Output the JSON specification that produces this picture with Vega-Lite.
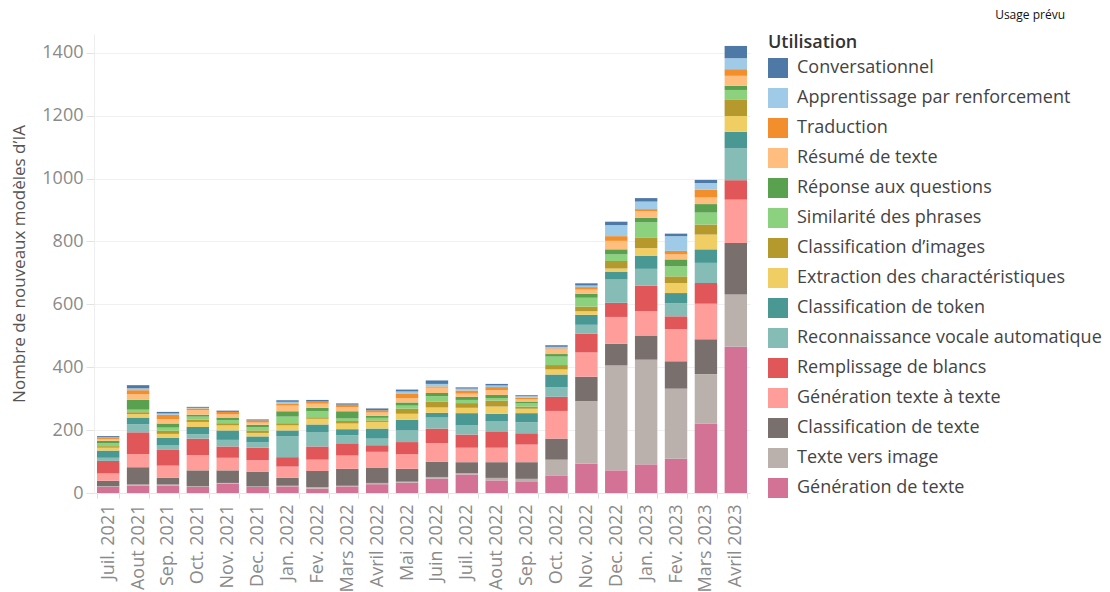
{
  "$schema": "https://vega.github.io/schema/vega-lite/v6.json",
  "width": 656,
  "height": 459,
  "autosize": {"type": "none"},
  "padding": {"left": 94, "top": 34, "right": 360, "bottom": 99},
  "background": "white",
  "title": {"text": "Usage prévu", "anchor": "end", "frame": "group", "dx": 315, "offset": 12, "fontSize": 12, "fontWeight": "normal", "font": "Open Sans", "color": "#111"},
  "config": {"view": {"stroke": null}},
  "data": {"values": [
    {"mois": "Juil. 2021", "Génération de texte": 19, "Texte vers image": 3, "Classification de texte": 17, "Génération texte à texte": 23, "Remplissage de blancs": 40, "Reconnaissance vocale automatique": 10, "Classification de token": 23, "Extraction des charactéristiques": 9, "Classification d’images": 5, "Similarité des phrases": 10, "Réponse aux questions": 7, "Résumé de texte": 6, "Traduction": 3, "Apprentissage par renforcement": 2, "Conversationnel": 4},
    {"mois": "Aout 2021", "Génération de texte": 24, "Texte vers image": 3, "Classification de texte": 55, "Génération texte à texte": 42, "Remplissage de blancs": 69, "Reconnaissance vocale automatique": 26, "Classification de token": 21, "Extraction des charactéristiques": 11, "Classification d’images": 6, "Similarité des phrases": 8, "Réponse aux questions": 31, "Résumé de texte": 18, "Traduction": 13, "Apprentissage par renforcement": 6, "Conversationnel": 10},
    {"mois": "Sep. 2021", "Génération de texte": 24, "Texte vers image": 3, "Classification de texte": 21, "Génération texte à texte": 39, "Remplissage de blancs": 50, "Reconnaissance vocale automatique": 14, "Classification de token": 24, "Extraction des charactéristiques": 13, "Classification d’images": 10, "Similarité des phrases": 10, "Réponse aux questions": 13, "Résumé de texte": 14, "Traduction": 14, "Apprentissage par renforcement": 4, "Conversationnel": 5},
    {"mois": "Oct. 2021", "Génération de texte": 19, "Texte vers image": 3, "Classification de texte": 50, "Génération texte à texte": 48, "Remplissage de blancs": 53, "Reconnaissance vocale automatique": 14, "Classification de token": 23, "Extraction des charactéristiques": 16, "Classification d’images": 7, "Similarité des phrases": 10, "Réponse aux questions": 6, "Résumé de texte": 15, "Traduction": 5, "Apprentissage par renforcement": 2, "Conversationnel": 3},
    {"mois": "Nov. 2021", "Génération de texte": 30, "Texte vers image": 2, "Classification de texte": 40, "Génération texte à texte": 40, "Remplissage de blancs": 36, "Reconnaissance vocale automatique": 21, "Classification de token": 30, "Extraction des charactéristiques": 16, "Classification d’images": 7, "Similarité des phrases": 10, "Réponse aux questions": 8, "Résumé de texte": 10, "Traduction": 8, "Apprentissage par renforcement": 0, "Conversationnel": 4},
    {"mois": "Dec. 2021", "Génération de texte": 19, "Texte vers image": 2, "Classification de texte": 46, "Génération texte à texte": 37, "Remplissage de blancs": 40, "Reconnaissance vocale automatique": 18, "Classification de token": 18, "Extraction des charactéristiques": 11, "Classification d’images": 8, "Similarité des phrases": 10, "Réponse aux questions": 8, "Résumé de texte": 7, "Traduction": 7, "Apprentissage par renforcement": 0, "Conversationnel": 3},
    {"mois": "Jan. 2022", "Génération de texte": 21, "Texte vers image": 2, "Classification de texte": 25, "Génération texte à texte": 36, "Remplissage de blancs": 30, "Reconnaissance vocale automatique": 66, "Classification de token": 19, "Extraction des charactéristiques": 16, "Classification d’images": 7, "Similarité des phrases": 21, "Réponse aux questions": 17, "Résumé de texte": 18, "Traduction": 7, "Apprentissage par renforcement": 5, "Conversationnel": 5},
    {"mois": "Fev. 2022", "Génération de texte": 14, "Texte vers image": 5, "Classification de texte": 51, "Génération texte à texte": 36, "Remplissage de blancs": 42, "Reconnaissance vocale automatique": 46, "Classification de token": 24, "Extraction des charactéristiques": 18, "Classification d’images": 5, "Similarité des phrases": 19, "Réponse aux questions": 11, "Résumé de texte": 13, "Traduction": 7, "Apprentissage par renforcement": 0, "Conversationnel": 5},
    {"mois": "Mars 2022", "Génération de texte": 21, "Texte vers image": 2, "Classification de texte": 54, "Génération texte à texte": 42, "Remplissage de blancs": 39, "Reconnaissance vocale automatique": 26, "Classification de token": 19, "Extraction des charactéristiques": 18, "Classification d’images": 8, "Similarité des phrases": 8, "Réponse aux questions": 23, "Résumé de texte": 13, "Traduction": 8, "Apprentissage par renforcement": 0, "Conversationnel": 4},
    {"mois": "Avril 2022", "Génération de texte": 28, "Texte vers image": 4, "Classification de texte": 49, "Génération texte à texte": 50, "Remplissage de blancs": 21, "Reconnaissance vocale automatique": 21, "Classification de token": 32, "Extraction des charactéristiques": 21, "Classification d’images": 5, "Similarité des phrases": 8, "Réponse aux questions": 7, "Résumé de texte": 10, "Traduction": 7, "Apprentissage par renforcement": 0, "Conversationnel": 6},
    {"mois": "Mai 2022", "Génération de texte": 33, "Texte vers image": 3, "Classification de texte": 41, "Génération texte à texte": 46, "Remplissage de blancs": 39, "Reconnaissance vocale automatique": 37, "Classification de token": 34, "Extraction des charactéristiques": 19, "Classification d’images": 16, "Similarité des phrases": 10, "Réponse aux questions": 10, "Résumé de texte": 14, "Traduction": 13, "Apprentissage par renforcement": 8, "Conversationnel": 6},
    {"mois": "Juin 2022", "Génération de texte": 46, "Texte vers image": 5, "Classification de texte": 48, "Génération texte à texte": 60, "Remplissage de blancs": 46, "Reconnaissance vocale automatique": 35, "Classification de token": 15, "Extraction des charactéristiques": 17, "Classification d’images": 18, "Similarité des phrases": 18, "Réponse aux questions": 10, "Résumé de texte": 17, "Traduction": 4, "Apprentissage par renforcement": 8, "Conversationnel": 11},
    {"mois": "Juil. 2022", "Génération de texte": 59, "Texte vers image": 4, "Classification de texte": 35, "Génération texte à texte": 46, "Remplissage de blancs": 42, "Reconnaissance vocale automatique": 29, "Classification de token": 39, "Extraction des charactéristiques": 17, "Classification d’images": 15, "Similarité des phrases": 10, "Réponse aux questions": 10, "Résumé de texte": 10, "Traduction": 10, "Apprentissage par renforcement": 6, "Conversationnel": 4},
    {"mois": "Aout 2022", "Génération de texte": 40, "Texte vers image": 8, "Classification de texte": 50, "Génération texte à texte": 46, "Remplissage de blancs": 50, "Reconnaissance vocale automatique": 35, "Classification de token": 23, "Extraction des charactéristiques": 23, "Classification d’images": 19, "Similarité des phrases": 8, "Réponse aux questions": 10, "Résumé de texte": 15, "Traduction": 10, "Apprentissage par renforcement": 5, "Conversationnel": 5},
    {"mois": "Sep. 2022", "Génération de texte": 35, "Texte vers image": 10, "Classification de texte": 53, "Génération texte à texte": 56, "Remplissage de blancs": 36, "Reconnaissance vocale automatique": 35, "Classification de token": 29, "Extraction des charactéristiques": 14, "Classification d’images": 7, "Similarité des phrases": 10, "Réponse aux questions": 6, "Résumé de texte": 7, "Traduction": 5, "Apprentissage par renforcement": 5, "Conversationnel": 3},
    {"mois": "Oct. 2022", "Génération de texte": 56, "Texte vers image": 50, "Classification de texte": 67, "Génération texte à texte": 88, "Remplissage de blancs": 45, "Reconnaissance vocale automatique": 30, "Classification de token": 41, "Extraction des charactéristiques": 16, "Classification d’images": 14, "Similarité des phrases": 27, "Réponse aux questions": 8, "Résumé de texte": 15, "Traduction": 3, "Apprentissage par renforcement": 5, "Conversationnel": 5},
    {"mois": "Nov. 2022", "Génération de texte": 93, "Texte vers image": 199, "Classification de texte": 78, "Génération texte à texte": 77, "Remplissage de blancs": 60, "Reconnaissance vocale automatique": 28, "Classification de token": 32, "Extraction des charactéristiques": 11, "Classification d’images": 15, "Similarité des phrases": 28, "Réponse aux questions": 13, "Résumé de texte": 13, "Traduction": 8, "Apprentissage par renforcement": 5, "Conversationnel": 7},
    {"mois": "Dec. 2022", "Génération de texte": 72, "Texte vers image": 334, "Classification de texte": 69, "Génération texte à texte": 85, "Remplissage de blancs": 45, "Reconnaissance vocale automatique": 74, "Classification de token": 24, "Extraction des charactéristiques": 11, "Classification d’images": 24, "Similarité des phrases": 21, "Réponse aux questions": 16, "Résumé de texte": 27, "Traduction": 15, "Apprentissage par renforcement": 35, "Conversationnel": 11},
    {"mois": "Jan. 2023", "Génération de texte": 91, "Texte vers image": 333, "Classification de texte": 77, "Génération texte à texte": 77, "Remplissage de blancs": 82, "Reconnaissance vocale automatique": 53, "Classification de token": 42, "Extraction des charactéristiques": 24, "Classification d’images": 34, "Similarité des phrases": 48, "Réponse aux questions": 14, "Résumé de texte": 21, "Traduction": 7, "Apprentissage par renforcement": 24, "Conversationnel": 11},
    {"mois": "Fev. 2023", "Génération de texte": 109, "Texte vers image": 223, "Classification de texte": 87, "Génération texte à texte": 102, "Remplissage de blancs": 41, "Reconnaissance vocale automatique": 42, "Classification de token": 32, "Extraction des charactéristiques": 32, "Classification d’images": 21, "Similarité des phrases": 32, "Réponse aux questions": 22, "Résumé de texte": 16, "Traduction": 11, "Apprentissage par renforcement": 47, "Conversationnel": 8},
    {"mois": "Mars 2023", "Génération de texte": 221, "Texte vers image": 157, "Classification de texte": 111, "Génération texte à texte": 113, "Remplissage de blancs": 66, "Reconnaissance vocale automatique": 64, "Classification de token": 43, "Extraction des charactéristiques": 47, "Classification d’images": 32, "Similarité des phrases": 38, "Réponse aux questions": 27, "Résumé de texte": 21, "Traduction": 25, "Apprentissage par renforcement": 21, "Conversationnel": 10},
    {"mois": "Avril 2023", "Génération de texte": 465, "Texte vers image": 166, "Classification de texte": 164, "Génération texte à texte": 138, "Remplissage de blancs": 62, "Reconnaissance vocale automatique": 101, "Classification de token": 53, "Extraction des charactéristiques": 50, "Classification d’images": 53, "Similarité des phrases": 30, "Réponse aux questions": 13, "Résumé de texte": 32, "Traduction": 21, "Apprentissage par renforcement": 35, "Conversationnel": 39}
  ]},
  "transform": [
    {"fold": ["Génération de texte", "Texte vers image", "Classification de texte", "Génération texte à texte", "Remplissage de blancs", "Reconnaissance vocale automatique", "Classification de token", "Extraction des charactéristiques", "Classification d’images", "Similarité des phrases", "Réponse aux questions", "Résumé de texte", "Traduction", "Apprentissage par renforcement", "Conversationnel"], "as": ["usage", "n"]},
    {"window": [{"op": "row_number", "as": "rang"}], "groupby": ["mois"]}
  ],
  "mark": {"type": "bar"},
  "encoding": {
    "x": {
      "field": "mois", "type": "nominal", "sort": null,
      "scale": {"paddingInner": 0.25, "paddingOuter": 0.1},
      "axis": {"title": null, "labelAngle": -90, "labelAlign": "right", "labelBaseline": "middle", "labelFont": "Open Sans", "labelFontSize": 18, "labelColor": "#8a8a8a", "labelPadding": 6, "tickBand": "extent", "ticks": true, "tickSize": 5, "tickColor": "#dddddd", "domainColor": "#e6e6e6", "grid": false}
    },
    "y": {
      "field": "n", "type": "quantitative", "stack": "zero",
      "scale": {"domain": [0, 1460], "nice": false},
      "axis": {"title": "Nombre de nouveaux modèles d’IA", "format": "d", "titleFont": "Open Sans", "titleFontSize": 17, "titleFontWeight": "normal", "titleColor": "#555555", "titlePadding": 13, "values": [0, 200, 400, 600, 800, 1000, 1200, 1400], "labelFont": "Open Sans", "labelFontSize": 18, "labelColor": "#8a8a8a", "labelPadding": 3, "tickSize": 8, "tickColor": "#e3e3e3", "gridColor": "#f0f0f0", "domainColor": "#eeeeee"}
    },
    "order": {"field": "rang", "type": "quantitative", "sort": "ascending"},
    "color": {
      "field": "usage", "type": "nominal",
      "scale": {
        "domain": ["Génération de texte", "Texte vers image", "Classification de texte", "Génération texte à texte", "Remplissage de blancs", "Reconnaissance vocale automatique", "Classification de token", "Extraction des charactéristiques", "Classification d’images", "Similarité des phrases", "Réponse aux questions", "Résumé de texte", "Traduction", "Apprentissage par renforcement", "Conversationnel"],
        "range": ["#D37295", "#BAB0AC", "#79706E", "#FF9D9A", "#E15759", "#86BCB6", "#499894", "#F1CE63", "#B6992D", "#8CD17D", "#59A14F", "#FFBE7D", "#F28E2B", "#A0CBE8", "#4E79A7"]
      },
      "legend": {
        "title": "Utilisation",
        "values": ["Conversationnel", "Apprentissage par renforcement", "Traduction", "Résumé de texte", "Réponse aux questions", "Similarité des phrases", "Classification d’images", "Extraction des charactéristiques", "Classification de token", "Reconnaissance vocale automatique", "Remplissage de blancs", "Génération texte à texte", "Classification de texte", "Texte vers image", "Génération de texte"],
        "offset": 18,
        "titleFont": "Open Sans", "titleFontSize": 18, "titleFontWeight": 600, "titleColor": "#333333", "titlePadding": 6,
        "labelFont": "Open Sans", "labelFontSize": 18, "labelColor": "#444444", "labelOffset": 9, "labelLimit": 400,
        "symbolType": "square", "symbolSize": 400, "symbolStrokeWidth": 0, "symbolOpacity": 1,
        "rowPadding": 10
      }
    }
  }
}
